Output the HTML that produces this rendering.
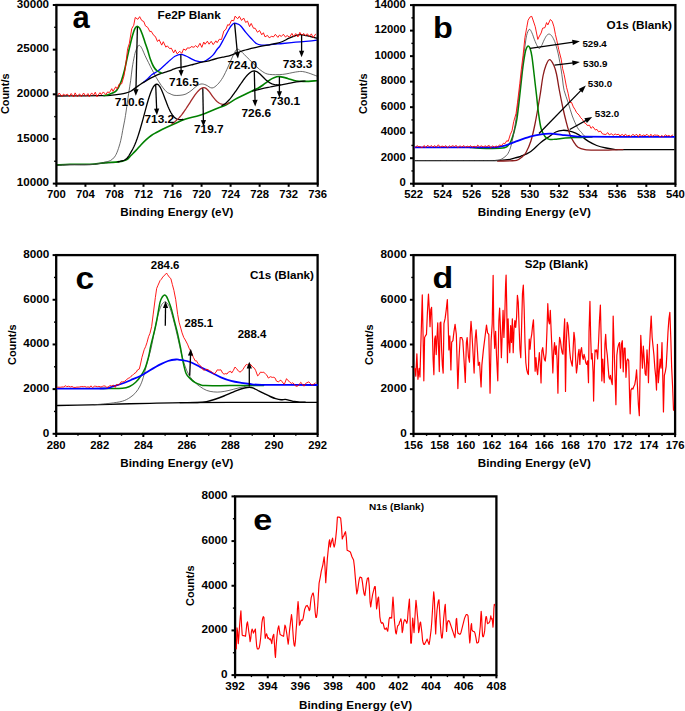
<!DOCTYPE html><html><head><meta charset="utf-8"><style>html,body{margin:0;padding:0;background:#fff;}svg{display:block;}</style></head><body>
<svg width="685" height="711" viewBox="0 0 685 711" font-family='"Liberation Sans", sans-serif'>
<rect width="685" height="711" fill="#fff"/>
<path d="M57.50,165.40 C59.58,165.30 64.58,164.92 70.00,164.80 C75.42,164.68 84.12,165.00 90.00,164.70 C95.88,164.40 101.05,163.37 105.30,163.00 C109.55,162.63 112.43,162.92 115.50,162.50 C118.57,162.08 122.33,160.83 123.70,160.50" fill="none" stroke="#222" stroke-width="1.0" stroke-linejoin="round" stroke-linecap="round" />
<path d="M57.50,164.90 C59.58,164.80 64.58,164.42 70.00,164.30 C75.42,164.18 84.12,164.48 90.00,164.20 C95.88,163.92 101.05,162.95 105.30,162.60 C109.55,162.25 112.60,162.35 115.50,162.10 C118.40,161.85 120.82,161.52 122.70,161.10 C124.58,160.68 125.43,160.53 126.80,159.60 C128.17,158.67 129.37,157.03 130.90,155.50 C132.43,153.97 134.30,152.20 136.00,150.40 C137.70,148.60 139.40,146.50 141.10,144.70 C142.80,142.90 144.50,141.13 146.20,139.60 C147.90,138.07 149.60,136.68 151.30,135.50 C153.00,134.32 154.62,133.50 156.40,132.50 C158.18,131.50 159.17,130.88 162.00,129.50 C164.83,128.12 169.45,125.95 173.40,124.20 C177.35,122.45 181.27,120.50 185.70,119.00 C190.13,117.50 194.70,117.00 200.00,115.20 C205.30,113.40 213.12,109.95 217.50,108.20 C221.88,106.45 223.38,106.17 226.30,104.70 C229.22,103.23 232.08,101.02 235.00,99.40 C237.92,97.78 240.87,96.45 243.80,95.00 C246.73,93.55 250.23,91.83 252.60,90.70 C254.97,89.57 256.27,89.15 258.00,88.20 C259.73,87.25 261.42,86.10 263.00,85.00 C264.58,83.90 266.00,82.67 267.50,81.60 C269.00,80.53 270.58,79.37 272.00,78.60 C273.42,77.83 274.72,77.33 276.00,77.00 C277.28,76.67 277.77,76.37 279.70,76.60 C281.63,76.83 284.82,77.67 287.60,78.40 C290.38,79.13 293.48,80.50 296.40,81.00 C299.32,81.50 301.75,81.45 305.10,81.40 C308.45,81.35 314.60,80.82 316.50,80.70" fill="none" stroke="#008000" stroke-width="1.6" stroke-linejoin="round" stroke-linecap="round" />
<path d="M252.60,91.20 C254.05,90.80 258.38,89.50 261.30,88.80 C264.22,88.10 267.18,87.57 270.10,87.00 C273.02,86.43 275.88,85.97 278.80,85.40 C281.72,84.83 284.67,84.18 287.60,83.60 C290.53,83.02 293.48,82.33 296.40,81.90 C299.32,81.47 303.65,81.15 305.10,81.00" fill="none" stroke="#000" stroke-width="1.2" stroke-linejoin="round" stroke-linecap="round" />
<path d="M118.00,161.76 L119.00,161.61 L120.00,161.42 L121.00,161.20 L122.00,160.94 L123.00,160.62 L124.00,160.25 L125.00,159.79 L126.00,159.13 L127.00,158.22 L128.00,157.00 L129.00,155.51 L130.00,153.88 L131.00,152.19 L132.00,150.43 L133.00,148.54 L134.00,146.48 L135.00,144.23 L136.00,141.78 L137.00,139.08 L138.00,136.15 L139.00,133.02 L140.00,129.71 L141.00,126.27 L142.00,122.72 L143.00,119.06 L144.00,115.33 L145.00,111.59 L146.00,107.88 L147.00,104.27 L148.00,100.79 L149.00,97.51 L150.00,94.48 L151.00,91.76 L152.00,89.41 L153.00,87.47 L154.00,85.96 L155.00,84.89 L156.00,84.26 L157.00,84.14 L158.00,84.57 L159.00,85.51 L160.00,86.93 L161.00,88.77 L162.00,90.95 L163.00,93.38 L164.00,95.98 L165.00,98.65 L166.00,101.33 L167.00,103.94 L168.00,106.43 L169.00,108.75 L170.00,110.86 L171.00,112.75 L172.00,114.39 L173.00,115.78 L174.00,116.94 L175.00,117.85 L176.00,118.55 L177.00,119.05 L178.00,119.38 L179.00,119.57 L180.00,119.63 L181.00,119.60 L182.00,119.50 L183.00,119.33" fill="none" stroke="#000" stroke-width="1.3" stroke-linejoin="round" stroke-linecap="round" />
<path d="M172.00,123.80 L173.00,123.11 L174.00,122.39 L175.00,121.60 L176.00,120.76 L177.00,119.85 L178.00,118.88 L179.00,117.84 L180.00,116.74 L181.00,115.56 L182.00,114.32 L183.00,113.01 L184.00,111.64 L185.00,110.22 L186.00,108.74 L187.00,107.22 L188.00,105.68 L189.00,104.12 L190.00,102.55 L191.00,100.97 L192.00,99.42 L193.00,97.89 L194.00,96.40 L195.00,94.98 L196.00,93.63 L197.00,92.38 L198.00,91.24 L199.00,90.23 L200.00,89.35 L201.00,88.62 L202.00,88.06 L203.00,87.68 L204.00,87.60 L205.00,87.84 L206.00,88.38 L207.00,89.18 L208.00,90.21 L209.00,91.40 L210.00,92.72 L211.00,94.11 L212.00,95.51 L213.00,96.89 L214.00,98.20 L215.00,99.42 L216.00,100.51 L217.00,101.46 L218.00,102.28 L219.00,102.95 L220.00,103.49 L221.00,103.90 L222.00,104.18 L223.00,104.34 L224.00,104.37 L225.00,104.28 L226.00,104.08 L227.00,103.77 L228.00,103.36 L229.00,102.87" fill="none" stroke="#a52a2a" stroke-width="1.3" stroke-linejoin="round" stroke-linecap="round" />
<path d="M222.00,105.60 L223.00,105.03 L224.00,104.41 L225.00,103.71 L226.00,102.92 L227.00,102.04 L228.00,101.06 L229.00,99.99 L230.00,98.83 L231.00,97.60 L232.00,96.31 L233.00,94.97 L234.00,93.60 L235.00,92.21 L236.00,90.81 L237.00,89.38 L238.00,87.92 L239.00,86.45 L240.00,84.97 L241.00,83.50 L242.00,82.05 L243.00,80.63 L244.00,79.24 L245.00,77.92 L246.00,76.66 L247.00,75.49 L248.00,74.42 L249.00,73.47 L250.00,72.65 L251.00,71.97 L252.00,71.44 L253.00,71.08 L254.00,70.93 L255.00,71.01 L256.00,71.30 L257.00,71.78 L258.00,72.42 L259.00,73.20 L260.00,74.07 L261.00,75.02 L262.00,76.01 L263.00,77.02 L264.00,78.03 L265.00,79.01 L266.00,79.94 L267.00,80.80 L268.00,81.59 L269.00,82.28 L270.00,82.88 L271.00,83.40 L272.00,83.82 L273.00,84.17 L274.00,84.44 L275.00,84.63 L276.00,84.77 L277.00,84.84 L278.00,84.86 L279.00,84.83 L280.00,84.76" fill="none" stroke="#000" stroke-width="1.3" stroke-linejoin="round" stroke-linecap="round" />
<path d="M57.50,165.20 C59.58,165.10 64.58,164.72 70.00,164.60 C75.42,164.48 85.00,164.72 90.00,164.50 C95.00,164.28 97.45,163.70 100.00,163.30 C102.55,162.90 103.57,162.55 105.30,162.10 C107.03,161.65 108.87,161.45 110.40,160.60 C111.93,159.75 113.30,158.62 114.50,157.00 C115.70,155.38 116.57,153.62 117.60,150.90 C118.63,148.18 119.85,144.12 120.70,140.70 C121.55,137.28 122.03,133.82 122.70,130.40 C123.37,126.98 124.10,123.60 124.70,120.20 C125.30,116.80 125.65,114.42 126.30,110.00 C126.95,105.58 127.87,98.63 128.60,93.70 C129.33,88.77 130.10,84.68 130.70,80.40 C131.30,76.12 131.57,72.15 132.20,68.00 C132.83,63.85 133.82,58.60 134.50,55.50 C135.18,52.40 135.63,51.05 136.30,49.40 C136.97,47.75 137.85,46.18 138.50,45.60 C139.15,45.02 139.55,45.27 140.20,45.90 C140.85,46.53 141.60,47.80 142.40,49.40 C143.20,51.00 143.98,53.30 145.00,55.50 C146.02,57.70 147.47,60.52 148.50,62.60 C149.53,64.68 149.92,65.53 151.20,68.00 C152.48,70.47 154.52,74.48 156.20,77.40 C157.88,80.32 159.60,83.12 161.30,85.50 C163.00,87.88 164.95,90.33 166.40,91.70 C167.85,93.07 168.73,93.10 170.00,93.70 C171.27,94.30 172.33,95.03 174.00,95.30 C175.67,95.57 178.00,95.52 180.00,95.30 C182.00,95.08 184.00,94.88 186.00,94.00 C188.00,93.12 190.33,91.25 192.00,90.00 C193.67,88.75 194.50,87.50 196.00,86.50 C197.50,85.50 199.33,84.25 201.00,84.00 C202.67,83.75 204.17,84.33 206.00,85.00 C207.83,85.67 210.08,88.08 212.00,88.00 C213.92,87.92 215.70,86.25 217.50,84.50 C219.30,82.75 221.05,80.42 222.80,77.50 C224.55,74.58 226.40,70.42 228.00,67.00 C229.60,63.58 230.97,59.92 232.40,57.00 C233.83,54.08 235.33,50.58 236.60,49.50 C237.87,48.42 238.92,49.85 240.00,50.50 C241.08,51.15 241.48,51.83 243.10,53.40 C244.72,54.97 247.50,57.72 249.70,59.90 C251.90,62.08 254.12,64.52 256.30,66.50 C258.48,68.48 260.62,70.48 262.80,71.80 C264.98,73.12 266.10,73.97 269.40,74.40 C272.70,74.83 278.22,74.80 282.60,74.40 C286.98,74.00 292.42,72.48 295.70,72.00 C298.98,71.52 300.12,71.32 302.30,71.50 C304.48,71.68 306.40,72.35 308.80,73.10 C311.20,73.85 315.38,75.52 316.70,76.00" fill="none" stroke="#444" stroke-width="0.8" stroke-linejoin="round" stroke-linecap="round" />
<path d="M143.50,82.20 C144.25,81.58 146.58,79.78 148.00,78.50 C149.42,77.22 150.47,75.67 152.00,74.50 C153.53,73.33 155.65,72.55 157.20,71.50 C158.75,70.45 159.77,69.52 161.30,68.20 C162.83,66.88 164.95,64.92 166.40,63.60 C167.85,62.28 168.57,61.52 170.00,60.30 C171.43,59.08 173.23,57.30 175.00,56.30 C176.77,55.30 178.77,54.35 180.60,54.30 C182.43,54.25 183.93,55.10 186.00,56.00 C188.07,56.90 191.17,58.83 193.00,59.70 C194.83,60.57 195.53,60.83 197.00,61.20 C198.47,61.57 200.30,62.02 201.80,61.90 C203.30,61.78 204.63,61.18 206.00,60.50 C207.37,59.82 208.77,58.78 210.00,57.80 C211.23,56.82 212.23,55.98 213.40,54.60 C214.57,53.22 215.90,50.97 217.00,49.50 C218.10,48.03 218.83,47.63 220.00,45.80 C221.17,43.97 222.67,40.97 224.00,38.50 C225.33,36.03 226.83,33.08 228.00,31.00 C229.17,28.92 229.93,27.30 231.00,26.00 C232.07,24.70 233.32,23.53 234.40,23.20 C235.48,22.87 236.48,23.57 237.50,24.00 C238.52,24.43 239.12,24.42 240.50,25.80 C241.88,27.18 244.05,30.23 245.80,32.30 C247.55,34.37 249.25,36.33 251.00,38.20 C252.75,40.07 254.55,42.35 256.30,43.50 C258.05,44.65 259.32,44.88 261.50,45.10 C263.68,45.32 265.88,45.07 269.40,44.80 C272.92,44.53 278.22,43.93 282.60,43.50 C286.98,43.07 291.33,42.60 295.70,42.20 C300.07,41.80 305.30,41.43 308.80,41.10 C312.30,40.77 315.38,40.35 316.70,40.20" fill="none" stroke="#0000ff" stroke-width="1.3" stroke-linejoin="round" stroke-linecap="round" />
<path d="M57.50,96.00 C61.25,95.98 72.92,95.95 80.00,95.90 C87.08,95.85 94.97,95.78 100.00,95.70 C105.03,95.62 106.80,95.65 110.20,95.40 C113.60,95.15 117.85,94.57 120.40,94.20 C122.95,93.83 123.78,93.70 125.50,93.20 C127.22,92.70 128.98,92.13 130.70,91.20 C132.42,90.27 134.10,88.80 135.80,87.60 C137.50,86.40 139.20,85.10 140.90,84.00 C142.60,82.90 144.30,82.02 146.00,81.00 C147.70,79.98 149.40,78.85 151.10,77.90 C152.80,76.95 154.50,76.07 156.20,75.30 C157.90,74.53 159.60,73.88 161.30,73.30 C163.00,72.72 164.62,72.38 166.40,71.80 C168.18,71.22 170.00,70.48 172.00,69.80 C174.00,69.12 176.23,68.25 178.40,67.70 C180.57,67.15 182.57,67.03 185.00,66.50 C187.43,65.97 190.20,65.22 193.00,64.50 C195.80,63.78 199.37,62.75 201.80,62.20 C204.23,61.65 205.40,61.73 207.60,61.20 C209.80,60.67 212.20,59.73 215.00,59.00 C217.80,58.27 221.90,57.37 224.40,56.80 C226.90,56.23 226.88,56.62 230.00,55.60 C233.12,54.58 238.72,52.07 243.10,50.70 C247.48,49.33 251.92,48.38 256.30,47.40 C260.68,46.42 266.12,45.45 269.40,44.80 C272.68,44.15 273.80,44.05 276.00,43.50 C278.20,42.95 280.42,42.38 282.60,41.50 C284.78,40.62 286.92,39.18 289.10,38.20 C291.28,37.22 293.72,36.18 295.70,35.60 C297.68,35.02 299.25,34.70 301.00,34.70 C302.75,34.70 304.45,35.23 306.20,35.60 C307.95,35.97 309.75,36.47 311.50,36.90 C313.25,37.33 315.83,37.98 316.70,38.20" fill="none" stroke="#000" stroke-width="1.3" stroke-linejoin="round" stroke-linecap="round" />
<path d="M104.00,95.60 C104.50,95.50 105.97,95.27 107.00,95.00 C108.03,94.73 108.82,94.55 110.20,94.00 C111.58,93.45 113.93,92.77 115.30,91.70 C116.67,90.63 117.37,89.48 118.40,87.60 C119.43,85.72 120.48,83.30 121.50,80.40 C122.52,77.50 123.50,74.20 124.50,70.20 C125.50,66.20 126.57,60.60 127.50,56.40 C128.43,52.20 129.22,48.65 130.10,45.00 C130.98,41.35 131.98,37.27 132.80,34.50 C133.62,31.73 134.27,29.78 135.00,28.40 C135.73,27.02 136.40,26.20 137.20,26.20 C138.00,26.20 138.93,27.02 139.80,28.40 C140.67,29.78 141.53,32.17 142.40,34.50 C143.27,36.83 144.12,39.77 145.00,42.40 C145.88,45.03 146.82,47.53 147.70,50.30 C148.58,53.07 149.33,56.30 150.30,59.00 C151.27,61.70 152.35,64.50 153.50,66.50 C154.65,68.50 155.90,69.93 157.20,71.00 C158.50,72.07 160.62,72.58 161.30,72.90" fill="none" stroke="#008000" stroke-width="1.6" stroke-linejoin="round" stroke-linecap="round" />
<path d="M57.50,95.57 L59.24,93.00 L61.80,96.42 L63.58,94.05 L65.09,95.46 L67.43,94.17 L69.48,96.51 L71.16,93.49 L73.73,97.00 L75.11,92.88 L77.39,96.68 L79.52,93.81 L81.43,96.64 L83.59,92.99 L85.74,96.18 L87.96,93.57 L89.28,96.73 L91.65,92.93 L93.70,95.17 L95.29,92.18 L97.00,96.79 L99.97,92.65 L101.30,94.64 L103.31,91.94 L105.89,94.63 L107.59,91.94 L109.47,92.58 L111.77,88.67 L113.03,91.42 L115.71,86.80 L117.37,89.04 L119.09,84.15 L121.66,83.80 L123.93,76.13 L125.21,68.83 L127.63,48.70 L129.30,43.54 L131.74,28.67 L133.72,25.28 L135.22,17.48 L137.83,19.34 L139.66,16.66 L141.68,20.42 L143.82,21.57 L145.43,25.86 L147.76,27.40 L149.88,31.66 L151.10,31.16 L153.85,35.49 L155.39,36.49 L157.48,41.50 L159.15,39.69 L161.70,45.14 L163.29,41.71 L165.87,47.21 L167.28,45.81 L169.56,48.54 L171.40,48.23 L173.61,52.87 L175.20,49.87 L177.18,53.84 L179.75,51.26 L181.75,53.36 L183.57,49.01 L185.92,50.27 L187.21,47.94 L189.85,48.07 L191.17,46.61 L193.96,47.25 L195.62,45.65 L197.61,47.41 L199.97,43.31 L201.79,47.34 L203.79,42.05 L205.05,44.26 L207.37,41.18 L209.08,44.19 L211.19,41.32 L213.21,44.63 L215.86,40.81 L217.13,42.73 L219.30,39.27 L221.49,39.49 L223.85,31.02 L225.97,29.22 L227.71,24.64 L229.21,25.31 L231.54,20.34 L233.71,20.78 L235.05,16.16 L237.68,18.76 L239.37,16.33 L241.59,20.45 L243.67,18.01 L245.67,22.45 L247.52,21.08 L249.55,26.63 L251.20,23.45 L253.50,28.27 L255.13,28.21 L257.48,32.24 L259.54,30.49 L261.77,34.79 L263.39,32.73 L265.02,36.87 L267.53,35.38 L269.21,37.79 L271.74,36.27 L273.39,36.98 L275.38,34.34 L277.91,37.38 L279.39,35.10 L281.35,36.44 L283.35,34.24 L285.48,37.04 L287.09,35.53 L289.55,37.17 L291.92,33.41 L293.56,36.51 L295.74,33.58 L297.95,37.03 L299.84,32.36 L301.74,35.35 L303.81,33.49 L305.82,35.84 L307.25,33.73 L309.48,36.39 L311.34,33.84 L313.26,37.62 L315.57,34.16" fill="none" stroke="#ff0000" stroke-width="0.9" stroke-linejoin="round" stroke-linecap="round" />
<line x1="137.40" y1="27.00" x2="135.93" y2="90.30" stroke="#000" stroke-width="1.3"/>
<polygon points="135.80,95.80 133.35,89.24 138.55,89.36" fill="#000"/>
<line x1="180.80" y1="54.60" x2="181.10" y2="71.10" stroke="#000" stroke-width="1.3"/>
<polygon points="181.20,76.60 178.48,70.15 183.68,70.05" fill="#000"/>
<line x1="155.70" y1="85.00" x2="156.68" y2="109.70" stroke="#000" stroke-width="1.3"/>
<polygon points="156.90,115.20 154.04,108.81 159.24,108.60" fill="#000"/>
<line x1="202.80" y1="88.20" x2="203.40" y2="121.10" stroke="#000" stroke-width="1.3"/>
<polygon points="203.50,126.60 200.78,120.15 205.98,120.05" fill="#000"/>
<line x1="234.60" y1="23.40" x2="237.39" y2="53.12" stroke="#000" stroke-width="1.3"/>
<polygon points="237.90,58.60 234.70,52.37 239.88,51.89" fill="#000"/>
<line x1="254.30" y1="71.60" x2="255.06" y2="100.90" stroke="#000" stroke-width="1.3"/>
<polygon points="255.20,106.40 252.43,99.97 257.63,99.83" fill="#000"/>
<line x1="279.40" y1="76.80" x2="279.40" y2="92.20" stroke="#000" stroke-width="1.3"/>
<polygon points="279.40,97.70 276.80,91.20 282.00,91.20" fill="#000"/>
<line x1="301.60" y1="35.00" x2="301.60" y2="51.80" stroke="#000" stroke-width="1.3"/>
<polygon points="301.60,57.30 299.00,50.80 304.20,50.80" fill="#000"/>
<text x="0" y="0" font-size="11.0" font-weight="bold" text-anchor="start" transform="translate(114.80,105.50) scale(1.08,1)" >710.6</text>
<text x="0" y="0" font-size="11.0" font-weight="bold" text-anchor="start" transform="translate(169.10,86.00) scale(1.08,1)" >716.5</text>
<text x="0" y="0" font-size="11.0" font-weight="bold" text-anchor="start" transform="translate(144.50,123.40) scale(1.08,1)" >713.2</text>
<text x="0" y="0" font-size="11.0" font-weight="bold" text-anchor="start" transform="translate(194.00,133.20) scale(1.08,1)" >719.7</text>
<text x="0" y="0" font-size="11.0" font-weight="bold" text-anchor="start" transform="translate(227.50,68.60) scale(1.08,1)" >724.0</text>
<text x="0" y="0" font-size="11.0" font-weight="bold" text-anchor="start" transform="translate(241.50,116.90) scale(1.08,1)" >726.6</text>
<text x="0" y="0" font-size="11.0" font-weight="bold" text-anchor="start" transform="translate(270.50,105.20) scale(1.08,1)" >730.1</text>
<text x="0" y="0" font-size="11.0" font-weight="bold" text-anchor="start" transform="translate(282.70,67.90) scale(1.08,1)" >733.3</text>
<text x="0" y="0" font-size="10.7" font-weight="bold" text-anchor="start" transform="translate(157.50,19.00) scale(1.1,1)" >Fe2P Blank</text>
<text x="72.60" y="27.60" font-size="31" font-weight="bold" text-anchor="start" >a</text>
<rect x="56.40" y="5.00" width="261.30" height="178.60" fill="none" stroke="#000" stroke-width="2.3"/>
<line x1="56.40" y1="183.60" x2="56.40" y2="186.80" stroke="#000" stroke-width="2"/>
<text x="56.40" y="197.50" font-size="11.3" font-weight="bold" text-anchor="middle" >700</text>
<line x1="85.43" y1="183.60" x2="85.43" y2="186.80" stroke="#000" stroke-width="2"/>
<text x="85.43" y="197.50" font-size="11.3" font-weight="bold" text-anchor="middle" >704</text>
<line x1="114.47" y1="183.60" x2="114.47" y2="186.80" stroke="#000" stroke-width="2"/>
<text x="114.47" y="197.50" font-size="11.3" font-weight="bold" text-anchor="middle" >708</text>
<line x1="143.50" y1="183.60" x2="143.50" y2="186.80" stroke="#000" stroke-width="2"/>
<text x="143.50" y="197.50" font-size="11.3" font-weight="bold" text-anchor="middle" >712</text>
<line x1="172.53" y1="183.60" x2="172.53" y2="186.80" stroke="#000" stroke-width="2"/>
<text x="172.53" y="197.50" font-size="11.3" font-weight="bold" text-anchor="middle" >716</text>
<line x1="201.57" y1="183.60" x2="201.57" y2="186.80" stroke="#000" stroke-width="2"/>
<text x="201.57" y="197.50" font-size="11.3" font-weight="bold" text-anchor="middle" >720</text>
<line x1="230.60" y1="183.60" x2="230.60" y2="186.80" stroke="#000" stroke-width="2"/>
<text x="230.60" y="197.50" font-size="11.3" font-weight="bold" text-anchor="middle" >724</text>
<line x1="259.63" y1="183.60" x2="259.63" y2="186.80" stroke="#000" stroke-width="2"/>
<text x="259.63" y="197.50" font-size="11.3" font-weight="bold" text-anchor="middle" >728</text>
<line x1="288.67" y1="183.60" x2="288.67" y2="186.80" stroke="#000" stroke-width="2"/>
<text x="288.67" y="197.50" font-size="11.3" font-weight="bold" text-anchor="middle" >732</text>
<line x1="317.70" y1="183.60" x2="317.70" y2="186.80" stroke="#000" stroke-width="2"/>
<text x="317.70" y="197.50" font-size="11.3" font-weight="bold" text-anchor="middle" >736</text>
<line x1="52.80" y1="183.60" x2="56.40" y2="183.60" stroke="#000" stroke-width="2"/>
<text x="0" y="0" font-size="11.3" font-weight="bold" text-anchor="end" transform="translate(49.10,186.30) scale(1.03,1)" >10000</text>
<line x1="54.20" y1="161.28" x2="56.40" y2="161.28" stroke="#000" stroke-width="1.4"/>
<line x1="52.80" y1="138.95" x2="56.40" y2="138.95" stroke="#000" stroke-width="2"/>
<text x="0" y="0" font-size="11.3" font-weight="bold" text-anchor="end" transform="translate(49.10,141.65) scale(1.03,1)" >15000</text>
<line x1="54.20" y1="116.62" x2="56.40" y2="116.62" stroke="#000" stroke-width="1.4"/>
<line x1="52.80" y1="94.30" x2="56.40" y2="94.30" stroke="#000" stroke-width="2"/>
<text x="0" y="0" font-size="11.3" font-weight="bold" text-anchor="end" transform="translate(49.10,97.00) scale(1.03,1)" >20000</text>
<line x1="54.20" y1="71.97" x2="56.40" y2="71.97" stroke="#000" stroke-width="1.4"/>
<line x1="52.80" y1="49.65" x2="56.40" y2="49.65" stroke="#000" stroke-width="2"/>
<text x="0" y="0" font-size="11.3" font-weight="bold" text-anchor="end" transform="translate(49.10,52.35) scale(1.03,1)" >25000</text>
<line x1="54.20" y1="27.33" x2="56.40" y2="27.33" stroke="#000" stroke-width="1.4"/>
<line x1="52.80" y1="5.00" x2="56.40" y2="5.00" stroke="#000" stroke-width="2"/>
<text x="0" y="0" font-size="11.3" font-weight="bold" text-anchor="end" transform="translate(49.10,7.70) scale(1.03,1)" >30000</text>
<text x="0" y="0" font-size="10.4" font-weight="bold" text-anchor="middle" letter-spacing="0.1" transform="translate(176.90,216.30) scale(1.12,1)" >Binding Energy (eV)</text>
<text x="0" y="0" font-size="10.9" font-weight="bold" text-anchor="middle" transform="translate(8.60,93.80) rotate(-90)">Count/s</text>
<rect x="413.60" y="5.10" width="261.80" height="178.60" fill="none" stroke="#000" stroke-width="2.3"/>
<line x1="413.60" y1="183.70" x2="413.60" y2="186.90" stroke="#000" stroke-width="2"/>
<text x="413.60" y="197.60" font-size="11.3" font-weight="bold" text-anchor="middle" >522</text>
<line x1="442.69" y1="183.70" x2="442.69" y2="186.90" stroke="#000" stroke-width="2"/>
<text x="442.69" y="197.60" font-size="11.3" font-weight="bold" text-anchor="middle" >524</text>
<line x1="471.78" y1="183.70" x2="471.78" y2="186.90" stroke="#000" stroke-width="2"/>
<text x="471.78" y="197.60" font-size="11.3" font-weight="bold" text-anchor="middle" >526</text>
<line x1="500.87" y1="183.70" x2="500.87" y2="186.90" stroke="#000" stroke-width="2"/>
<text x="500.87" y="197.60" font-size="11.3" font-weight="bold" text-anchor="middle" >528</text>
<line x1="529.96" y1="183.70" x2="529.96" y2="186.90" stroke="#000" stroke-width="2"/>
<text x="529.96" y="197.60" font-size="11.3" font-weight="bold" text-anchor="middle" >530</text>
<line x1="559.04" y1="183.70" x2="559.04" y2="186.90" stroke="#000" stroke-width="2"/>
<text x="559.04" y="197.60" font-size="11.3" font-weight="bold" text-anchor="middle" >532</text>
<line x1="588.13" y1="183.70" x2="588.13" y2="186.90" stroke="#000" stroke-width="2"/>
<text x="588.13" y="197.60" font-size="11.3" font-weight="bold" text-anchor="middle" >534</text>
<line x1="617.22" y1="183.70" x2="617.22" y2="186.90" stroke="#000" stroke-width="2"/>
<text x="617.22" y="197.60" font-size="11.3" font-weight="bold" text-anchor="middle" >536</text>
<line x1="646.31" y1="183.70" x2="646.31" y2="186.90" stroke="#000" stroke-width="2"/>
<text x="646.31" y="197.60" font-size="11.3" font-weight="bold" text-anchor="middle" >538</text>
<line x1="675.40" y1="183.70" x2="675.40" y2="186.90" stroke="#000" stroke-width="2"/>
<text x="675.40" y="197.60" font-size="11.3" font-weight="bold" text-anchor="middle" >540</text>
<line x1="410.00" y1="183.70" x2="413.60" y2="183.70" stroke="#000" stroke-width="2"/>
<text x="405.80" y="186.40" font-size="11.3" font-weight="bold" text-anchor="end" >0</text>
<line x1="411.40" y1="170.94" x2="413.60" y2="170.94" stroke="#000" stroke-width="1.4"/>
<line x1="410.00" y1="158.19" x2="413.60" y2="158.19" stroke="#000" stroke-width="2"/>
<text x="405.80" y="160.89" font-size="11.3" font-weight="bold" text-anchor="end" >2000</text>
<line x1="411.40" y1="145.43" x2="413.60" y2="145.43" stroke="#000" stroke-width="1.4"/>
<line x1="410.00" y1="132.67" x2="413.60" y2="132.67" stroke="#000" stroke-width="2"/>
<text x="405.80" y="135.37" font-size="11.3" font-weight="bold" text-anchor="end" >4000</text>
<line x1="411.40" y1="119.91" x2="413.60" y2="119.91" stroke="#000" stroke-width="1.4"/>
<line x1="410.00" y1="107.16" x2="413.60" y2="107.16" stroke="#000" stroke-width="2"/>
<text x="405.80" y="109.86" font-size="11.3" font-weight="bold" text-anchor="end" >6000</text>
<line x1="411.40" y1="94.40" x2="413.60" y2="94.40" stroke="#000" stroke-width="1.4"/>
<line x1="410.00" y1="81.64" x2="413.60" y2="81.64" stroke="#000" stroke-width="2"/>
<text x="405.80" y="84.34" font-size="11.3" font-weight="bold" text-anchor="end" >8000</text>
<line x1="411.40" y1="68.89" x2="413.60" y2="68.89" stroke="#000" stroke-width="1.4"/>
<line x1="410.00" y1="56.13" x2="413.60" y2="56.13" stroke="#000" stroke-width="2"/>
<text x="405.80" y="58.83" font-size="11.3" font-weight="bold" text-anchor="end" >10000</text>
<line x1="411.40" y1="43.37" x2="413.60" y2="43.37" stroke="#000" stroke-width="1.4"/>
<line x1="410.00" y1="30.61" x2="413.60" y2="30.61" stroke="#000" stroke-width="2"/>
<text x="405.80" y="33.31" font-size="11.3" font-weight="bold" text-anchor="end" >12000</text>
<line x1="411.40" y1="17.86" x2="413.60" y2="17.86" stroke="#000" stroke-width="1.4"/>
<line x1="410.00" y1="5.10" x2="413.60" y2="5.10" stroke="#000" stroke-width="2"/>
<text x="405.80" y="7.80" font-size="11.3" font-weight="bold" text-anchor="end" >14000</text>
<text x="0" y="0" font-size="10.4" font-weight="bold" text-anchor="middle" letter-spacing="0.1" transform="translate(534.40,215.50) scale(1.12,1)" >Binding Energy (eV)</text>
<text x="0" y="0" font-size="10.9" font-weight="bold" text-anchor="middle" transform="translate(366.80,93.80) rotate(-90)">Count/s</text>
<path d="M415.00,160.60 C424.17,160.60 458.57,160.60 470.00,160.60 C481.43,160.60 478.57,160.65 483.60,160.60 C488.63,160.55 495.80,160.52 500.20,160.30 C504.60,160.08 507.52,159.70 510.00,159.30 C512.48,158.90 513.32,158.40 515.10,157.90 C516.88,157.40 518.22,157.28 520.70,156.30 C523.18,155.32 526.60,154.35 530.00,152.00 C533.40,149.65 537.77,144.87 541.10,142.20 C544.43,139.53 547.55,137.70 550.00,136.00 C552.45,134.30 553.67,132.95 555.80,132.00 C557.93,131.05 560.65,130.48 562.80,130.30 C564.95,130.12 566.55,130.42 568.70,130.90 C570.85,131.38 573.37,132.13 575.70,133.20 C578.03,134.27 580.57,135.93 582.70,137.30 C584.83,138.67 586.17,140.03 588.50,141.40 C590.83,142.77 593.77,144.40 596.70,145.50 C599.63,146.60 603.18,147.37 606.10,148.00 C609.02,148.63 611.55,149.03 614.20,149.30 C616.85,149.57 612.03,149.55 622.00,149.60 C631.97,149.65 665.33,149.60 674.00,149.60" fill="none" stroke="#000" stroke-width="1.3" stroke-linejoin="round" stroke-linecap="round" />
<path d="M497.60,161.00 C499.67,160.97 506.83,160.92 510.00,160.80 C513.17,160.68 514.58,160.93 516.60,160.30 C518.62,159.67 520.53,158.30 522.10,157.00 C523.67,155.70 524.53,155.17 526.00,152.50 C527.47,149.83 529.40,145.75 530.90,141.00 C532.40,136.25 533.52,131.33 535.00,124.00 C536.48,116.67 538.47,105.00 539.80,97.00 C541.13,89.00 541.98,81.25 543.00,76.00 C544.02,70.75 544.82,68.23 545.90,65.50 C546.98,62.77 548.18,59.65 549.50,59.60 C550.82,59.55 552.63,62.80 553.80,65.20 C554.97,67.60 555.58,69.87 556.50,74.00 C557.42,78.13 558.25,84.42 559.30,90.00 C560.35,95.58 561.62,102.05 562.80,107.50 C563.98,112.95 565.22,118.22 566.40,122.70 C567.58,127.18 568.73,131.28 569.90,134.40 C571.07,137.52 572.05,139.27 573.40,141.40 C574.75,143.53 576.07,145.83 578.00,147.20 C579.93,148.57 581.88,149.12 585.00,149.60 C588.12,150.08 592.80,150.02 596.70,150.10 C600.60,150.18 605.28,150.15 608.40,150.10 C611.52,150.05 612.97,149.88 615.40,149.80 C617.83,149.72 621.73,149.63 623.00,149.60" fill="none" stroke="#8b1a1a" stroke-width="1.3" stroke-linejoin="round" stroke-linecap="round" />
<path d="M470.00,147.40 C471.67,147.53 475.00,148.05 480.00,148.20 C485.00,148.35 495.83,148.40 500.00,148.30 C504.17,148.20 503.65,148.07 505.00,147.60 C506.35,147.13 507.10,146.60 508.10,145.50 C509.10,144.40 510.02,143.25 511.00,141.00 C511.98,138.75 513.02,135.67 514.00,132.00 C514.98,128.33 515.95,125.00 516.90,119.00 C517.85,113.00 518.80,103.83 519.70,96.00 C520.60,88.17 521.58,78.08 522.30,72.00 C523.02,65.92 523.42,63.17 524.00,59.50 C524.58,55.83 525.13,52.25 525.80,50.00 C526.47,47.75 527.28,46.25 528.00,46.00 C528.72,45.75 529.45,46.77 530.10,48.50 C530.75,50.23 531.32,52.82 531.90,56.40 C532.48,59.98 533.05,65.40 533.60,70.00 C534.15,74.60 534.70,79.67 535.20,84.00 C535.70,88.33 536.05,91.17 536.60,96.00 C537.15,100.83 537.75,107.58 538.50,113.00 C539.25,118.42 540.02,124.58 541.10,128.50 C542.18,132.42 543.63,134.68 545.00,136.50 C546.37,138.32 547.63,138.95 549.30,139.40 C550.97,139.85 552.97,139.35 555.00,139.20 C557.03,139.05 558.43,138.77 561.50,138.50 C564.57,138.23 569.48,137.80 573.40,137.60 C577.32,137.40 581.90,137.40 585.00,137.30 C588.10,137.20 590.83,137.05 592.00,137.00" fill="none" stroke="#008000" stroke-width="1.5" stroke-linejoin="round" stroke-linecap="round" />
<path d="M415.00,160.50 C427.50,160.50 476.53,160.52 490.00,160.50 C503.47,160.48 494.13,160.52 495.80,160.40 C497.47,160.28 498.63,160.28 500.00,159.80 C501.37,159.32 502.65,158.58 504.00,157.50 C505.35,156.42 506.85,155.55 508.10,153.30 C509.35,151.05 510.33,148.72 511.50,144.00 C512.67,139.28 514.02,131.83 515.10,125.00 C516.18,118.17 517.13,109.67 518.00,103.00 C518.87,96.33 519.62,90.63 520.30,85.00 C520.98,79.37 521.55,74.03 522.10,69.20 C522.65,64.37 523.13,59.73 523.60,56.00 C524.07,52.27 524.40,50.22 524.90,46.80 C525.40,43.38 525.87,38.42 526.60,35.50 C527.33,32.58 528.42,29.75 529.30,29.30 C530.18,28.85 531.03,31.05 531.90,32.80 C532.77,34.55 533.62,37.62 534.50,39.80 C535.38,41.98 536.40,44.45 537.20,45.90 C538.00,47.35 538.58,48.50 539.30,48.50 C540.02,48.50 540.68,47.35 541.50,45.90 C542.32,44.45 543.32,41.55 544.20,39.80 C545.08,38.05 545.93,36.35 546.80,35.40 C547.67,34.45 548.53,33.95 549.40,34.10 C550.27,34.25 551.12,35.07 552.00,36.30 C552.88,37.53 553.97,39.75 554.70,41.50 C555.43,43.25 555.82,44.75 556.40,46.80 C556.98,48.85 557.62,51.17 558.20,53.80 C558.78,56.43 559.40,59.90 559.90,62.60 C560.40,65.30 560.75,67.10 561.20,70.00 C561.65,72.90 562.12,76.60 562.60,80.00 C563.08,83.40 563.17,86.62 564.10,90.40 C565.03,94.18 566.83,98.43 568.20,102.70 C569.57,106.97 570.77,111.87 572.30,116.00 C573.83,120.13 575.87,124.75 577.40,127.50 C578.93,130.25 580.23,131.00 581.50,132.50 C582.77,134.00 583.58,135.75 585.00,136.50 C586.42,137.25 589.17,136.92 590.00,137.00" fill="none" stroke="#444" stroke-width="0.8" stroke-linejoin="round" stroke-linecap="round" />
<path d="M415.00,147.40 C425.83,147.40 466.67,147.42 480.00,147.40 C493.33,147.38 490.83,147.60 495.00,147.30 C499.17,147.00 501.67,146.52 505.00,145.60 C508.33,144.68 510.83,143.30 515.00,141.80 C519.17,140.30 525.67,137.85 530.00,136.60 C534.33,135.35 537.50,134.78 541.00,134.30 C544.50,133.82 547.55,133.60 551.00,133.70 C554.45,133.80 557.97,134.50 561.70,134.90 C565.43,135.30 569.52,135.80 573.40,136.10 C577.28,136.40 575.57,136.58 585.00,136.70 C594.43,136.82 615.17,136.77 630.00,136.80 C644.83,136.83 666.67,136.88 674.00,136.90" fill="none" stroke="#0000ff" stroke-width="1.8" stroke-linejoin="round" stroke-linecap="round" />
<path d="M415.00,147.54 L417.16,145.72 L418.85,146.71 L420.15,146.61 L422.02,147.70 L424.34,145.50 L425.35,147.49 L427.89,145.24 L429.67,147.12 L431.17,145.44 L432.82,147.06 L434.60,145.64 L436.38,147.10 L438.35,144.77 L440.20,147.18 L442.05,146.04 L444.25,146.78 L445.86,145.65 L447.51,147.83 L449.64,145.78 L450.74,146.85 L452.49,145.73 L454.70,146.59 L455.99,145.28 L457.78,147.64 L460.01,145.79 L461.77,147.08 L463.98,145.56 L465.52,147.28 L467.21,146.11 L469.00,147.02 L470.57,145.70 L472.16,147.19 L474.12,146.22 L476.37,147.22 L477.73,145.11 L479.68,146.99 L481.15,145.73 L483.70,147.05 L484.89,145.73 L486.79,146.64 L489.14,145.35 L490.61,147.80 L492.71,145.88 L494.33,147.08 L496.22,145.95 L497.43,146.94 L499.64,145.01 L501.41,145.64 L503.53,143.18 L504.88,143.75 L506.89,140.58 L508.20,141.41 L510.30,134.52 L512.04,130.65 L513.69,121.67 L516.08,113.38 L517.49,102.81 L519.83,83.19 L521.28,69.75 L523.09,55.35 L524.92,37.63 L526.76,27.40 L528.09,20.22 L530.15,16.85 L531.77,16.36 L533.71,22.02 L535.24,26.66 L537.82,39.41 L538.94,37.01 L541.15,32.99 L542.62,28.19 L544.94,27.67 L546.55,22.60 L547.87,24.90 L550.31,19.54 L552.20,21.24 L553.96,26.79 L555.46,34.65 L556.88,40.71 L558.72,49.55 L561.19,59.18 L562.65,68.71 L564.11,74.38 L566.55,87.30 L568.13,93.29 L569.86,102.31 L571.49,102.32 L573.32,106.85 L574.97,109.46 L576.58,112.54 L579.14,115.17 L580.57,117.59 L582.44,119.44 L584.04,122.39 L586.23,123.87 L587.37,125.54 L589.48,125.18 L590.98,128.34 L592.86,126.61 L595.42,130.04 L596.94,129.40 L598.54,131.83 L600.42,131.04 L602.54,133.96 L603.86,134.23 L605.88,134.47 L607.77,132.67 L609.27,134.92 L611.22,133.71 L613.24,135.31 L615.17,133.92 L616.29,134.69 L618.79,134.31 L619.75,135.91 L622.23,134.44 L624.08,136.12 L625.27,134.16 L627.33,135.91 L629.48,135.21 L630.56,136.61 L632.92,134.38 L634.86,135.71 L636.41,134.16 L638.40,136.81 L639.75,134.06 L641.53,136.19 L643.48,134.99 L645.11,135.67 L647.06,134.34 L649.40,136.68 L650.87,134.22 L652.46,136.36 L654.19,134.97 L656.61,135.24 L657.95,135.16 L660.23,136.83 L661.61,135.47 L663.42,136.65 L665.56,134.82 L667.22,136.08 L668.87,135.48 L670.53,136.43 L672.74,135.06" fill="none" stroke="#ff0000" stroke-width="0.9" stroke-linejoin="round" stroke-linecap="round" />
<line x1="530.10" y1="48.40" x2="573.47" y2="42.22" stroke="#000" stroke-width="1.3"/>
<polygon points="579.90,41.30 572.84,44.93 572.11,39.78" fill="#000"/>
<line x1="554.50" y1="65.20" x2="573.45" y2="62.89" stroke="#000" stroke-width="1.3"/>
<polygon points="579.90,62.10 572.77,65.59 572.14,60.43" fill="#000"/>
<line x1="539.00" y1="133.50" x2="581.26" y2="90.15" stroke="#000" stroke-width="1.3"/>
<polygon points="585.80,85.50 582.43,92.69 578.70,89.05" fill="#000"/>
<line x1="569.70" y1="129.50" x2="586.52" y2="120.16" stroke="#000" stroke-width="1.3"/>
<polygon points="592.20,117.00 586.91,122.92 584.38,118.37" fill="#000"/>
<text x="0" y="0" font-size="8.7" font-weight="bold" text-anchor="start" transform="translate(582.40,47.00) scale(1.12,1)" >529.4</text>
<text x="0" y="0" font-size="8.7" font-weight="bold" text-anchor="start" transform="translate(583.00,67.10) scale(1.12,1)" >530.9</text>
<text x="0" y="0" font-size="8.7" font-weight="bold" text-anchor="start" transform="translate(587.80,87.00) scale(1.12,1)" >530.0</text>
<text x="0" y="0" font-size="8.7" font-weight="bold" text-anchor="start" transform="translate(594.80,117.00) scale(1.12,1)" >532.0</text>
<text x="0" y="0" font-size="29.5" font-weight="bold" text-anchor="start" transform="translate(432.90,38.40) scale(1.1,1)" >b</text>
<text x="0" y="0" font-size="10.6" font-weight="bold" text-anchor="start" transform="translate(606.60,28.70) scale(1.11,1)" >O1s (Blank)</text>
<rect x="56.20" y="255.10" width="261.40" height="178.70" fill="none" stroke="#000" stroke-width="2.3"/>
<line x1="77.98" y1="433.80" x2="77.98" y2="435.80" stroke="#000" stroke-width="1.4"/>
<line x1="121.55" y1="433.80" x2="121.55" y2="435.80" stroke="#000" stroke-width="1.4"/>
<line x1="165.12" y1="433.80" x2="165.12" y2="435.80" stroke="#000" stroke-width="1.4"/>
<line x1="208.68" y1="433.80" x2="208.68" y2="435.80" stroke="#000" stroke-width="1.4"/>
<line x1="252.25" y1="433.80" x2="252.25" y2="435.80" stroke="#000" stroke-width="1.4"/>
<line x1="295.82" y1="433.80" x2="295.82" y2="435.80" stroke="#000" stroke-width="1.4"/>
<line x1="56.20" y1="433.80" x2="56.20" y2="437.00" stroke="#000" stroke-width="2"/>
<text x="56.20" y="448.50" font-size="11.3" font-weight="bold" text-anchor="middle" >280</text>
<line x1="99.77" y1="433.80" x2="99.77" y2="437.00" stroke="#000" stroke-width="2"/>
<text x="99.77" y="448.50" font-size="11.3" font-weight="bold" text-anchor="middle" >282</text>
<line x1="143.33" y1="433.80" x2="143.33" y2="437.00" stroke="#000" stroke-width="2"/>
<text x="143.33" y="448.50" font-size="11.3" font-weight="bold" text-anchor="middle" >284</text>
<line x1="186.90" y1="433.80" x2="186.90" y2="437.00" stroke="#000" stroke-width="2"/>
<text x="186.90" y="448.50" font-size="11.3" font-weight="bold" text-anchor="middle" >286</text>
<line x1="230.47" y1="433.80" x2="230.47" y2="437.00" stroke="#000" stroke-width="2"/>
<text x="230.47" y="448.50" font-size="11.3" font-weight="bold" text-anchor="middle" >288</text>
<line x1="274.03" y1="433.80" x2="274.03" y2="437.00" stroke="#000" stroke-width="2"/>
<text x="274.03" y="448.50" font-size="11.3" font-weight="bold" text-anchor="middle" >290</text>
<line x1="317.60" y1="433.80" x2="317.60" y2="437.00" stroke="#000" stroke-width="2"/>
<text x="317.60" y="448.50" font-size="11.3" font-weight="bold" text-anchor="middle" >292</text>
<line x1="52.60" y1="433.80" x2="56.20" y2="433.80" stroke="#000" stroke-width="2"/>
<text x="0" y="0" font-size="11.3" font-weight="bold" text-anchor="end" transform="translate(49.30,436.80) scale(1.04,1)" >0</text>
<line x1="54.00" y1="411.46" x2="56.20" y2="411.46" stroke="#000" stroke-width="1.4"/>
<line x1="52.60" y1="389.12" x2="56.20" y2="389.12" stroke="#000" stroke-width="2"/>
<text x="0" y="0" font-size="11.3" font-weight="bold" text-anchor="end" transform="translate(49.30,392.12) scale(1.04,1)" >2000</text>
<line x1="54.00" y1="366.79" x2="56.20" y2="366.79" stroke="#000" stroke-width="1.4"/>
<line x1="52.60" y1="344.45" x2="56.20" y2="344.45" stroke="#000" stroke-width="2"/>
<text x="0" y="0" font-size="11.3" font-weight="bold" text-anchor="end" transform="translate(49.30,347.45) scale(1.04,1)" >4000</text>
<line x1="54.00" y1="322.11" x2="56.20" y2="322.11" stroke="#000" stroke-width="1.4"/>
<line x1="52.60" y1="299.77" x2="56.20" y2="299.77" stroke="#000" stroke-width="2"/>
<text x="0" y="0" font-size="11.3" font-weight="bold" text-anchor="end" transform="translate(49.30,302.77) scale(1.04,1)" >6000</text>
<line x1="54.00" y1="277.44" x2="56.20" y2="277.44" stroke="#000" stroke-width="1.4"/>
<line x1="52.60" y1="255.10" x2="56.20" y2="255.10" stroke="#000" stroke-width="2"/>
<text x="0" y="0" font-size="11.3" font-weight="bold" text-anchor="end" transform="translate(49.30,258.10) scale(1.04,1)" >8000</text>
<text x="0" y="0" font-size="10.4" font-weight="bold" text-anchor="middle" letter-spacing="0.1" transform="translate(176.90,467.40) scale(1.12,1)" >Binding Energy (eV)</text>
<text x="0" y="0" font-size="10.9" font-weight="bold" text-anchor="middle" transform="translate(15.60,344.70) rotate(-90)">Count/s</text>
<path d="M57.50,405.50 C62.92,405.40 79.58,405.15 90.00,404.90 C100.42,404.65 110.00,404.27 120.00,404.00 C130.00,403.73 139.00,403.52 150.00,403.30 C161.00,403.08 169.33,402.85 186.00,402.70 C202.67,402.55 228.17,402.45 250.00,402.40 C271.83,402.35 305.83,402.40 317.00,402.40" fill="none" stroke="#000" stroke-width="1.3" stroke-linejoin="round" stroke-linecap="round" />
<path d="M180.00,402.60 C182.90,402.58 192.97,402.67 197.40,402.50 C201.83,402.33 203.53,402.18 206.60,401.60 C209.67,401.02 212.92,399.93 215.80,399.00 C218.68,398.07 221.35,397.02 223.90,396.00 C226.45,394.98 228.88,393.83 231.10,392.90 C233.32,391.97 235.15,391.17 237.20,390.40 C239.25,389.63 241.37,388.83 243.40,388.30 C245.43,387.77 247.67,387.20 249.40,387.20 C251.13,387.20 252.17,387.65 253.80,388.30 C255.43,388.95 257.38,390.18 259.20,391.10 C261.02,392.02 262.87,392.90 264.70,393.80 C266.53,394.70 268.37,395.68 270.20,396.50 C272.03,397.32 273.88,398.15 275.70,398.70 C277.52,399.25 279.50,399.68 281.10,399.80 C282.70,399.92 283.83,399.30 285.30,399.40 C286.77,399.50 288.40,400.05 289.90,400.40 C291.40,400.75 292.67,401.22 294.30,401.50 C295.93,401.78 297.88,401.97 299.70,402.10 C301.52,402.23 304.28,402.27 305.20,402.30" fill="none" stroke="#000" stroke-width="1.4" stroke-linejoin="round" stroke-linecap="round" />
<path d="M94.00,404.80 C96.67,404.55 105.27,403.90 110.00,403.30 C114.73,402.70 119.07,402.17 122.40,401.20 C125.73,400.23 127.78,398.93 130.00,397.50 C132.22,396.07 134.03,394.52 135.70,392.60 C137.37,390.68 138.73,388.53 140.00,386.00 C141.27,383.47 142.13,381.23 143.30,377.40 C144.47,373.57 145.73,367.73 147.00,363.00 C148.27,358.27 149.62,354.50 150.90,349.00 C152.18,343.50 153.52,335.67 154.70,330.00 C155.88,324.33 156.95,319.00 158.00,315.00 C159.05,311.00 160.08,308.07 161.00,306.00 C161.92,303.93 162.75,303.27 163.50,302.60 C164.25,301.93 164.83,301.85 165.50,302.00 C166.17,302.15 166.75,302.50 167.50,303.50 C168.25,304.50 169.08,305.58 170.00,308.00 C170.92,310.42 172.00,314.33 173.00,318.00 C174.00,321.67 175.00,325.83 176.00,330.00 C177.00,334.17 178.00,338.67 179.00,343.00 C180.00,347.33 181.00,352.17 182.00,356.00 C183.00,359.83 183.80,362.75 185.00,366.00 C186.20,369.25 187.48,372.72 189.20,375.50 C190.92,378.28 193.43,380.82 195.30,382.70 C197.17,384.58 198.52,385.52 200.40,386.80 C202.28,388.08 204.38,389.55 206.60,390.40 C208.82,391.25 211.32,391.65 213.70,391.90 C216.08,392.15 218.35,392.15 220.90,391.90 C223.45,391.65 226.28,391.00 229.00,390.40 C231.72,389.80 234.80,388.90 237.20,388.30 C239.60,387.70 241.27,387.30 243.40,386.80 C245.53,386.30 247.90,385.63 250.00,385.30 C252.10,384.97 255.00,384.88 256.00,384.80" fill="none" stroke="#444" stroke-width="0.8" stroke-linejoin="round" stroke-linecap="round" />
<path d="M100.00,388.40 C103.73,388.38 117.40,388.67 122.40,388.30 C127.40,387.93 127.78,387.22 130.00,386.20 C132.22,385.18 133.95,383.82 135.70,382.20 C137.45,380.58 138.92,378.87 140.50,376.50 C142.08,374.13 143.87,371.25 145.20,368.00 C146.53,364.75 147.55,360.80 148.50,357.00 C149.45,353.20 149.87,349.70 150.90,345.20 C151.93,340.70 153.68,334.37 154.70,330.00 C155.72,325.63 156.12,323.62 157.00,319.00 C157.88,314.38 159.12,305.97 160.00,302.30 C160.88,298.63 161.53,298.20 162.30,297.00 C163.07,295.80 163.90,295.18 164.60,295.10 C165.30,295.02 165.90,295.65 166.50,296.50 C167.10,297.35 167.42,298.22 168.20,300.20 C168.98,302.18 170.18,304.98 171.20,308.40 C172.22,311.82 173.27,316.62 174.30,320.70 C175.33,324.78 176.38,328.48 177.40,332.90 C178.42,337.32 179.45,342.35 180.40,347.20 C181.35,352.05 182.15,357.62 183.10,362.00 C184.05,366.38 184.92,370.73 186.10,373.50 C187.28,376.27 188.67,377.07 190.20,378.60 C191.73,380.13 193.60,381.68 195.30,382.70 C197.00,383.72 198.70,384.22 200.40,384.70 C202.10,385.18 200.57,385.45 205.50,385.60 C210.43,385.75 220.32,385.60 230.00,385.60 C239.68,385.60 258.00,385.60 263.60,385.60" fill="none" stroke="#008000" stroke-width="1.5" stroke-linejoin="round" stroke-linecap="round" />
<path d="M57.50,388.60 C65.15,388.58 94.32,388.82 103.40,388.50 C112.48,388.18 108.83,387.53 112.00,386.70 C115.17,385.87 119.23,384.62 122.40,383.50 C125.57,382.38 127.83,381.33 131.00,380.00 C134.17,378.67 138.23,377.13 141.40,375.50 C144.57,373.87 146.83,372.05 150.00,370.20 C153.17,368.35 157.40,365.93 160.40,364.40 C163.40,362.87 165.40,361.82 168.00,361.00 C170.60,360.18 174.00,359.68 176.00,359.50 C178.00,359.32 177.63,359.48 180.00,359.90 C182.37,360.32 186.80,360.80 190.20,362.00 C193.60,363.20 196.98,365.40 200.40,367.10 C203.82,368.80 207.28,370.50 210.70,372.20 C214.12,373.90 217.50,375.85 220.90,377.30 C224.30,378.75 227.70,379.97 231.10,380.90 C234.50,381.83 238.15,382.38 241.30,382.90 C244.45,383.42 246.55,383.68 250.00,384.00 C253.45,384.32 250.83,384.63 262.00,384.80 C273.17,384.97 307.83,384.97 317.00,385.00" fill="none" stroke="#0000ff" stroke-width="1.8" stroke-linejoin="round" stroke-linecap="round" />
<path d="M57.50,387.14 L59.10,387.22 L60.78,387.21 L61.92,386.96 L63.62,386.94 L65.84,385.69 L66.76,386.69 L68.40,386.26 L70.66,386.92 L72.00,386.48 L73.40,387.29 L75.11,387.45 L76.83,387.07 L78.12,387.07 L79.61,386.91 L81.73,386.51 L83.24,386.72 L84.71,386.47 L86.55,387.14 L87.94,386.85 L89.88,387.28 L90.86,385.85 L92.74,387.50 L94.29,386.26 L95.78,386.28 L97.57,386.67 L98.89,386.39 L100.94,387.01 L102.59,386.33 L103.60,385.94 L105.47,386.05 L106.92,387.61 L108.37,386.58 L110.62,385.45 L111.84,386.22 L113.22,384.96 L115.24,387.35 L116.46,384.46 L118.62,384.85 L119.67,384.26 L121.13,381.83 L122.86,381.98 L124.58,381.37 L126.28,379.83 L128.22,378.33 L129.66,377.84 L130.97,376.31 L132.31,375.44 L134.03,373.73 L136.30,372.19 L137.47,369.96 L139.25,369.09 L140.34,364.96 L141.93,357.45 L144.18,349.69 L145.57,346.69 L146.95,342.69 L148.55,336.66 L149.97,333.34 L151.64,326.64 L153.12,314.92 L155.37,297.42 L156.67,288.43 L158.00,285.25 L160.09,280.56 L161.26,279.37 L162.75,277.06 L164.78,275.01 L166.62,273.09 L167.52,274.60 L169.74,277.71 L170.85,278.58 L172.37,284.54 L173.91,290.37 L175.73,299.69 L177.68,314.48 L179.09,322.21 L180.98,328.88 L182.07,332.86 L183.75,337.46 L185.31,340.01 L187.48,344.13 L189.05,348.08 L190.17,350.27 L191.85,353.48 L193.35,357.33 L195.30,360.96 L196.33,360.67 L197.95,363.33 L199.82,365.40 L201.30,366.60 L203.38,370.09 L204.89,370.06 L206.34,369.36 L208.03,369.63 L209.65,370.91 L211.32,371.48 L213.04,373.36 L214.02,374.05 L216.00,372.17 L217.21,369.88 L219.05,370.06 L220.93,369.84 L222.62,373.13 L224.11,374.23 L225.13,373.59 L226.99,374.02 L228.43,372.05 L230.70,371.26 L231.62,373.04 L233.30,370.55 L234.99,367.04 L236.35,368.38 L238.60,371.28 L240.01,372.09 L241.23,371.41 L243.10,369.26 L244.36,367.12 L246.39,364.42 L247.69,364.89 L249.13,363.82 L250.79,364.60 L252.74,367.08 L254.41,368.18 L255.76,370.72 L257.61,375.88 L258.98,374.69 L260.40,372.15 L262.15,372.42 L263.82,372.16 L265.83,374.41 L266.79,375.10 L268.37,378.07 L270.35,376.71 L272.27,377.39 L273.83,377.27 L275.26,378.20 L276.35,380.97 L278.55,382.01 L280.05,380.22 L281.22,380.49 L283.07,383.02 L284.34,384.30 L286.54,378.65 L288.07,380.65 L289.74,381.94 L291.31,383.49 L292.51,382.77 L294.53,384.35 L295.70,386.15 L297.21,386.21 L299.01,384.98 L300.70,382.34 L302.13,383.72 L303.98,386.23 L305.58,383.50 L306.89,382.74 L308.80,381.88 L310.19,383.24 L312.09,385.17 L313.33,384.46 L315.34,383.07" fill="none" stroke="#ff0000" stroke-width="0.9" stroke-linejoin="round" stroke-linecap="round" />
<line x1="165.30" y1="325.80" x2="165.53" y2="307.00" stroke="#000" stroke-width="1.3"/>
<polygon points="165.60,301.20 168.12,308.03 162.92,307.97" fill="#000"/>
<line x1="189.70" y1="375.80" x2="190.56" y2="354.60" stroke="#000" stroke-width="1.3"/>
<polygon points="190.80,348.80 193.12,355.70 187.93,355.49" fill="#000"/>
<line x1="249.30" y1="386.50" x2="249.30" y2="367.60" stroke="#000" stroke-width="1.3"/>
<polygon points="249.30,361.80 251.90,368.60 246.70,368.60" fill="#000"/>
<text x="0" y="0" font-size="11.0" font-weight="bold" text-anchor="start" transform="translate(150.80,269.10) scale(1.04,1)" >284.6</text>
<text x="0" y="0" font-size="11.0" font-weight="bold" text-anchor="start" transform="translate(184.50,327.30) scale(1.04,1)" >285.1</text>
<text x="0" y="0" font-size="11.0" font-weight="bold" text-anchor="start" transform="translate(237.70,338.40) scale(1.04,1)" >288.4</text>
<text x="0" y="0" font-size="30.5" font-weight="bold" text-anchor="start" transform="translate(75.60,288.60) scale(1.1,1)" >c</text>
<text x="0" y="0" font-size="10.6" font-weight="bold" text-anchor="start" transform="translate(249.90,278.70) scale(1.1,1)" >C1s (Blank)</text>
<rect x="413.50" y="255.10" width="261.60" height="178.80" fill="none" stroke="#000" stroke-width="2.3"/>
<line x1="426.58" y1="433.90" x2="426.58" y2="435.90" stroke="#000" stroke-width="1.4"/>
<line x1="452.74" y1="433.90" x2="452.74" y2="435.90" stroke="#000" stroke-width="1.4"/>
<line x1="478.90" y1="433.90" x2="478.90" y2="435.90" stroke="#000" stroke-width="1.4"/>
<line x1="505.06" y1="433.90" x2="505.06" y2="435.90" stroke="#000" stroke-width="1.4"/>
<line x1="531.22" y1="433.90" x2="531.22" y2="435.90" stroke="#000" stroke-width="1.4"/>
<line x1="557.38" y1="433.90" x2="557.38" y2="435.90" stroke="#000" stroke-width="1.4"/>
<line x1="583.54" y1="433.90" x2="583.54" y2="435.90" stroke="#000" stroke-width="1.4"/>
<line x1="609.70" y1="433.90" x2="609.70" y2="435.90" stroke="#000" stroke-width="1.4"/>
<line x1="635.86" y1="433.90" x2="635.86" y2="435.90" stroke="#000" stroke-width="1.4"/>
<line x1="662.02" y1="433.90" x2="662.02" y2="435.90" stroke="#000" stroke-width="1.4"/>
<line x1="413.50" y1="433.90" x2="413.50" y2="437.10" stroke="#000" stroke-width="2"/>
<text x="413.50" y="448.60" font-size="11.3" font-weight="bold" text-anchor="middle" >156</text>
<line x1="439.66" y1="433.90" x2="439.66" y2="437.10" stroke="#000" stroke-width="2"/>
<text x="439.66" y="448.60" font-size="11.3" font-weight="bold" text-anchor="middle" >158</text>
<line x1="465.82" y1="433.90" x2="465.82" y2="437.10" stroke="#000" stroke-width="2"/>
<text x="465.82" y="448.60" font-size="11.3" font-weight="bold" text-anchor="middle" >160</text>
<line x1="491.98" y1="433.90" x2="491.98" y2="437.10" stroke="#000" stroke-width="2"/>
<text x="491.98" y="448.60" font-size="11.3" font-weight="bold" text-anchor="middle" >162</text>
<line x1="518.14" y1="433.90" x2="518.14" y2="437.10" stroke="#000" stroke-width="2"/>
<text x="518.14" y="448.60" font-size="11.3" font-weight="bold" text-anchor="middle" >164</text>
<line x1="544.30" y1="433.90" x2="544.30" y2="437.10" stroke="#000" stroke-width="2"/>
<text x="544.30" y="448.60" font-size="11.3" font-weight="bold" text-anchor="middle" >166</text>
<line x1="570.46" y1="433.90" x2="570.46" y2="437.10" stroke="#000" stroke-width="2"/>
<text x="570.46" y="448.60" font-size="11.3" font-weight="bold" text-anchor="middle" >168</text>
<line x1="596.62" y1="433.90" x2="596.62" y2="437.10" stroke="#000" stroke-width="2"/>
<text x="596.62" y="448.60" font-size="11.3" font-weight="bold" text-anchor="middle" >170</text>
<line x1="622.78" y1="433.90" x2="622.78" y2="437.10" stroke="#000" stroke-width="2"/>
<text x="622.78" y="448.60" font-size="11.3" font-weight="bold" text-anchor="middle" >172</text>
<line x1="648.94" y1="433.90" x2="648.94" y2="437.10" stroke="#000" stroke-width="2"/>
<text x="648.94" y="448.60" font-size="11.3" font-weight="bold" text-anchor="middle" >174</text>
<line x1="675.10" y1="433.90" x2="675.10" y2="437.10" stroke="#000" stroke-width="2"/>
<text x="675.10" y="448.60" font-size="11.3" font-weight="bold" text-anchor="middle" >176</text>
<line x1="409.90" y1="433.90" x2="413.50" y2="433.90" stroke="#000" stroke-width="2"/>
<text x="0" y="0" font-size="11.3" font-weight="bold" text-anchor="end" transform="translate(406.70,436.90) scale(1.04,1)" >0</text>
<line x1="411.30" y1="411.55" x2="413.50" y2="411.55" stroke="#000" stroke-width="1.4"/>
<line x1="409.90" y1="389.20" x2="413.50" y2="389.20" stroke="#000" stroke-width="2"/>
<text x="0" y="0" font-size="11.3" font-weight="bold" text-anchor="end" transform="translate(406.70,392.20) scale(1.04,1)" >2000</text>
<line x1="411.30" y1="366.85" x2="413.50" y2="366.85" stroke="#000" stroke-width="1.4"/>
<line x1="409.90" y1="344.50" x2="413.50" y2="344.50" stroke="#000" stroke-width="2"/>
<text x="0" y="0" font-size="11.3" font-weight="bold" text-anchor="end" transform="translate(406.70,347.50) scale(1.04,1)" >4000</text>
<line x1="411.30" y1="322.15" x2="413.50" y2="322.15" stroke="#000" stroke-width="1.4"/>
<line x1="409.90" y1="299.80" x2="413.50" y2="299.80" stroke="#000" stroke-width="2"/>
<text x="0" y="0" font-size="11.3" font-weight="bold" text-anchor="end" transform="translate(406.70,302.80) scale(1.04,1)" >6000</text>
<line x1="411.30" y1="277.45" x2="413.50" y2="277.45" stroke="#000" stroke-width="1.4"/>
<line x1="409.90" y1="255.10" x2="413.50" y2="255.10" stroke="#000" stroke-width="2"/>
<text x="0" y="0" font-size="11.3" font-weight="bold" text-anchor="end" transform="translate(406.70,258.10) scale(1.04,1)" >8000</text>
<text x="0" y="0" font-size="10.4" font-weight="bold" text-anchor="middle" letter-spacing="0.1" transform="translate(534.40,467.40) scale(1.12,1)" >Binding Energy (eV)</text>
<text x="0" y="0" font-size="10.9" font-weight="bold" text-anchor="middle" transform="translate(373.00,344.70) rotate(-90)">Count/s</text>
<path d="M414.86,368.45 L415.78,376.19 L416.87,353.75 L417.95,379.28 L419.19,368.45 L419.96,376.96 L420.74,348.34 L421.51,322.04 L422.28,294.96 L423.06,334.41 L423.83,380.83 L424.60,337.51 L425.38,335.96 L426.46,334.41 L427.39,312.75 L428.47,294.19 L429.40,311.21 L430.02,326.68 L430.79,309.66 L431.57,307.34 L432.34,331.32 L433.11,359.17 L433.89,374.64 L434.66,339.06 L435.43,335.96 L436.21,354.53 L436.98,337.51 L437.75,322.81 L438.53,348.34 L439.30,371.54 L440.07,322.81 L440.85,322.04 L441.62,349.89 L442.40,365.36 L443.17,373.09 L443.94,323.58 L445.18,318.17 L446.26,309.66 L447.35,299.60 L448.27,326.68 L448.89,349.89 L449.82,335.96 L450.90,370.00 L451.68,342.15 L452.92,340.60 L454.00,331.32 L455.08,324.36 L456.32,334.41 L457.87,388.56 L458.95,359.17 L460.19,337.51 L461.73,337.51 L462.82,340.60 L464.06,360.71 L465.29,382.37 L466.38,342.92 L467.15,337.51 L468.39,356.07 L469.47,362.26 L470.24,334.41 L471.02,321.26 L471.79,331.32 L473.03,352.98 L474.11,373.09 L475.19,339.06 L476.12,329.77 L477.21,346.79 L478.29,365.36 L479.53,362.26 L481.07,387.02 L481.85,365.36 L483.39,349.89 L484.94,337.51 L486.49,325.13 L487.57,332.87 L488.81,334.41 L490.05,393.20 L491.13,340.60 L492.21,323.58 L493.14,275.31 L493.76,326.68 L494.69,348.34 L495.62,331.32 L496.54,356.07 L497.78,380.83 L498.87,320.49 L499.64,308.11 L500.53,330.70 L501.38,357.70 L502.22,334.07 L503.06,310.44 L503.91,337.45 L504.75,317.19 L505.59,285.13 L506.10,275.00 L506.78,308.76 L507.45,362.76 L508.13,318.88 L508.97,342.51 L509.81,352.64 L510.66,325.63 L511.50,342.51 L512.35,318.88 L513.19,352.64 L514.03,329.01 L514.88,320.57 L515.72,327.32 L516.57,317.19 L517.41,295.25 L518.25,302.00 L519.10,327.32 L519.94,349.26 L520.78,357.70 L521.63,325.63 L522.47,293.57 L523.32,285.13 L524.16,308.76 L525.00,342.51 L525.85,362.76 L526.69,369.51 L527.54,372.89 L528.38,374.58 L529.22,339.14 L530.07,349.26 L530.91,339.14 L531.76,334.07 L532.60,325.63 L533.44,319.73 L534.29,342.51 L535.13,371.20 L535.97,357.70 L536.82,369.51 L537.66,374.58 L538.51,362.76 L539.35,352.64 L540.19,362.76 L541.04,383.02 L541.88,350.95 L542.73,347.57 L543.57,354.32 L544.41,359.39 L545.26,361.08 L546.10,352.64 L546.95,330.70 L547.79,303.69 L548.63,320.57 L549.48,323.95 L550.32,310.44 L551.16,330.70 L552.01,350.95 L552.85,372.89 L553.70,350.95 L554.54,342.51 L555.38,354.32 L556.23,345.89 L557.07,359.39 L557.92,393.14 L558.76,350.95 L559.60,337.45 L560.45,340.82 L561.29,347.57 L562.14,352.64 L562.98,354.32 L563.82,334.07 L564.67,318.88 L565.51,391.46 L566.35,342.51 L567.20,322.26 L568.04,325.63 L568.89,337.45 L569.73,350.95 L570.57,359.39 L571.42,362.76 L572.26,366.14 L573.11,349.26 L573.95,332.38 L574.79,339.14 L575.64,359.39 L576.48,372.89 L577.32,366.14 L578.17,354.32 L579.01,349.26 L579.86,364.45 L580.70,350.95 L581.54,347.57 L582.39,356.01 L583.23,359.39 L584.08,354.32 L584.92,357.70 L585.74,362.65 L586.66,364.48 L587.57,360.83 L588.49,382.77 L589.03,331.57 L589.95,301.40 L590.68,337.06 L591.41,359.00 L592.14,353.51 L593.06,371.80 L593.61,401.05 L594.34,368.14 L595.07,349.85 L595.80,351.68 L596.71,349.85 L597.63,359.00 L598.54,342.54 L599.46,320.60 L600.37,305.06 L601.28,342.54 L601.83,380.94 L602.75,359.00 L603.48,371.80 L604.21,382.77 L604.94,344.37 L605.67,334.31 L606.40,348.03 L607.32,355.34 L608.23,368.14 L608.96,377.28 L609.70,379.11 L610.43,375.45 L611.34,380.94 L612.26,384.60 L613.17,316.03 L614.08,348.03 L615.00,375.45 L615.91,404.71 L616.83,355.34 L617.74,348.03 L618.66,344.37 L619.57,342.54 L620.48,368.14 L621.40,344.37 L622.31,340.71 L623.23,371.80 L624.14,348.03 L625.06,348.03 L625.97,377.28 L626.88,360.83 L627.80,359.00 L628.71,360.83 L629.63,397.40 L630.17,413.85 L630.91,390.08 L632.00,388.25 L632.92,389.17 L633.83,386.42 L634.75,384.60 L635.66,379.11 L636.57,369.97 L637.49,386.42 L638.40,404.71 L639.32,415.68 L640.05,373.62 L640.78,335.23 L641.51,349.85 L642.43,368.14 L643.34,346.20 L644.25,359.00 L645.17,373.62 L646.08,375.45 L647.00,349.85 L647.91,364.48 L648.46,382.77 L649.37,349.85 L650.29,331.57 L651.20,316.03 L652.12,337.06 L653.03,346.20 L653.95,355.34 L654.86,368.14 L655.77,377.28 L656.51,390.08 L657.42,344.37 L658.33,382.77 L659.25,371.80 L660.16,359.00 L661.08,368.14 L661.99,342.54 L662.72,373.62 L663.45,412.02 L664.37,375.45 L665.28,371.80 L666.20,366.31 L667.11,349.85 L668.02,331.57 L668.94,318.77 L669.85,312.37 L670.77,337.06 L671.68,368.14 L672.60,386.42 L673.51,410.19" fill="none" stroke="#ff0000" stroke-width="1.2" stroke-linejoin="round" stroke-linecap="round" />
<text x="0" y="0" font-size="29.5" font-weight="bold" text-anchor="start" transform="translate(432.40,288.40) scale(1.15,1)" >d</text>
<text x="0" y="0" font-size="10.5" font-weight="bold" text-anchor="start" transform="translate(524.70,267.70) scale(1.1,1)" >S2p (Blank)</text>
<rect x="235.10" y="496.40" width="261.30" height="178.70" fill="none" stroke="#000" stroke-width="2.3"/>
<line x1="251.43" y1="675.10" x2="251.43" y2="677.10" stroke="#000" stroke-width="1.4"/>
<line x1="284.09" y1="675.10" x2="284.09" y2="677.10" stroke="#000" stroke-width="1.4"/>
<line x1="316.76" y1="675.10" x2="316.76" y2="677.10" stroke="#000" stroke-width="1.4"/>
<line x1="349.42" y1="675.10" x2="349.42" y2="677.10" stroke="#000" stroke-width="1.4"/>
<line x1="382.08" y1="675.10" x2="382.08" y2="677.10" stroke="#000" stroke-width="1.4"/>
<line x1="414.74" y1="675.10" x2="414.74" y2="677.10" stroke="#000" stroke-width="1.4"/>
<line x1="447.41" y1="675.10" x2="447.41" y2="677.10" stroke="#000" stroke-width="1.4"/>
<line x1="480.07" y1="675.10" x2="480.07" y2="677.10" stroke="#000" stroke-width="1.4"/>
<line x1="235.10" y1="675.10" x2="235.10" y2="678.30" stroke="#000" stroke-width="2"/>
<text x="0" y="0" font-size="11.3" font-weight="bold" text-anchor="middle" transform="translate(235.10,690.00) scale(1.04,1)" >392</text>
<line x1="267.76" y1="675.10" x2="267.76" y2="678.30" stroke="#000" stroke-width="2"/>
<text x="0" y="0" font-size="11.3" font-weight="bold" text-anchor="middle" transform="translate(267.76,690.00) scale(1.04,1)" >394</text>
<line x1="300.42" y1="675.10" x2="300.42" y2="678.30" stroke="#000" stroke-width="2"/>
<text x="0" y="0" font-size="11.3" font-weight="bold" text-anchor="middle" transform="translate(300.42,690.00) scale(1.04,1)" >396</text>
<line x1="333.09" y1="675.10" x2="333.09" y2="678.30" stroke="#000" stroke-width="2"/>
<text x="0" y="0" font-size="11.3" font-weight="bold" text-anchor="middle" transform="translate(333.09,690.00) scale(1.04,1)" >398</text>
<line x1="365.75" y1="675.10" x2="365.75" y2="678.30" stroke="#000" stroke-width="2"/>
<text x="0" y="0" font-size="11.3" font-weight="bold" text-anchor="middle" transform="translate(365.75,690.00) scale(1.04,1)" >400</text>
<line x1="398.41" y1="675.10" x2="398.41" y2="678.30" stroke="#000" stroke-width="2"/>
<text x="0" y="0" font-size="11.3" font-weight="bold" text-anchor="middle" transform="translate(398.41,690.00) scale(1.04,1)" >402</text>
<line x1="431.07" y1="675.10" x2="431.07" y2="678.30" stroke="#000" stroke-width="2"/>
<text x="0" y="0" font-size="11.3" font-weight="bold" text-anchor="middle" transform="translate(431.07,690.00) scale(1.04,1)" >404</text>
<line x1="463.74" y1="675.10" x2="463.74" y2="678.30" stroke="#000" stroke-width="2"/>
<text x="0" y="0" font-size="11.3" font-weight="bold" text-anchor="middle" transform="translate(463.74,690.00) scale(1.04,1)" >406</text>
<line x1="496.40" y1="675.10" x2="496.40" y2="678.30" stroke="#000" stroke-width="2"/>
<text x="0" y="0" font-size="11.3" font-weight="bold" text-anchor="middle" transform="translate(496.40,690.00) scale(1.04,1)" >408</text>
<line x1="231.50" y1="675.10" x2="235.10" y2="675.10" stroke="#000" stroke-width="2"/>
<text x="0" y="0" font-size="11.3" font-weight="bold" text-anchor="end" transform="translate(227.50,678.10) scale(1.04,1)" >0</text>
<line x1="232.90" y1="652.76" x2="235.10" y2="652.76" stroke="#000" stroke-width="1.4"/>
<line x1="231.50" y1="630.42" x2="235.10" y2="630.42" stroke="#000" stroke-width="2"/>
<text x="0" y="0" font-size="11.3" font-weight="bold" text-anchor="end" transform="translate(227.50,633.42) scale(1.04,1)" >2000</text>
<line x1="232.90" y1="608.09" x2="235.10" y2="608.09" stroke="#000" stroke-width="1.4"/>
<line x1="231.50" y1="585.75" x2="235.10" y2="585.75" stroke="#000" stroke-width="2"/>
<text x="0" y="0" font-size="11.3" font-weight="bold" text-anchor="end" transform="translate(227.50,588.75) scale(1.04,1)" >4000</text>
<line x1="232.90" y1="563.41" x2="235.10" y2="563.41" stroke="#000" stroke-width="1.4"/>
<line x1="231.50" y1="541.08" x2="235.10" y2="541.08" stroke="#000" stroke-width="2"/>
<text x="0" y="0" font-size="11.3" font-weight="bold" text-anchor="end" transform="translate(227.50,544.08) scale(1.04,1)" >6000</text>
<line x1="232.90" y1="518.74" x2="235.10" y2="518.74" stroke="#000" stroke-width="1.4"/>
<line x1="231.50" y1="496.40" x2="235.10" y2="496.40" stroke="#000" stroke-width="2"/>
<text x="0" y="0" font-size="11.3" font-weight="bold" text-anchor="end" transform="translate(227.50,499.40) scale(1.04,1)" >8000</text>
<text x="0" y="0" font-size="10.4" font-weight="bold" text-anchor="middle" letter-spacing="0.1" transform="translate(355.60,708.80) scale(1.12,1)" >Binding Energy (eV)</text>
<text x="0" y="0" font-size="10.9" font-weight="bold" text-anchor="middle" transform="translate(194.40,585.70) rotate(-90)">Count/s</text>
<path d="M236.31,648.83 L236.97,627.81 L237.63,631.75 L238.28,643.58 L238.94,635.69 L239.60,625.18 L240.26,617.30 L240.91,610.73 L241.57,625.18 L242.23,635.04 L242.88,635.69 L244.20,635.69 L245.51,636.35 L246.17,630.44 L246.82,623.87 L247.48,621.90 L248.14,626.50 L248.80,631.75 L249.45,635.69 L250.11,641.61 L250.77,638.32 L251.42,631.75 L252.08,629.12 L252.74,630.44 L253.39,633.07 L254.05,631.75 L254.71,630.44 L255.37,629.12 L256.02,638.32 L256.68,646.21 L257.34,648.83 L257.99,648.83 L258.65,648.83 L259.31,647.52 L259.96,643.58 L260.62,638.32 L261.28,630.44 L261.93,622.56 L262.59,618.61 L263.25,616.64 L263.91,617.30 L264.56,627.81 L265.22,638.32 L265.88,635.69 L266.53,633.72 L267.19,635.69 L267.85,638.32 L268.50,637.67 L269.16,638.98 L269.82,639.64 L270.47,638.98 L271.13,640.95 L271.79,643.58 L272.45,638.32 L273.10,635.69 L273.76,634.38 L274.42,643.58 L275.07,654.09 L275.47,657.37 L276.12,646.21 L276.78,638.32 L277.44,631.75 L278.10,627.81 L278.75,625.84 L279.41,630.44 L280.07,634.38 L280.99,635.04 L282.30,635.69 L283.61,636.35 L284.27,630.44 L284.93,625.18 L285.58,626.50 L286.24,630.44 L286.90,634.38 L287.56,639.64 L288.21,644.23 L288.87,638.32 L289.53,630.44 L290.18,625.18 L290.84,619.93 L291.50,614.67 L292.15,619.93 L292.81,630.44 L293.47,639.64 L294.12,644.89 L294.78,646.21 L295.44,640.95 L296.10,630.44 L296.75,622.56 L297.41,609.42 L298.07,601.53 L298.72,609.42 L299.38,625.18 L300.04,623.87 L300.69,621.24 L301.35,619.93 L302.01,620.58 L302.67,619.93 L303.32,617.30 L303.98,613.36 L304.64,609.42 L305.95,606.13 L307.26,605.47 L308.58,608.10 L309.23,610.73 L309.89,609.42 L310.55,602.85 L311.21,597.59 L312.52,593.65 L313.18,592.99 L313.83,596.28 L314.49,602.85 L315.15,612.04 L315.80,617.30 L316.46,617.30 L317.12,613.36 L317.77,605.47 L318.43,593.65 L319.09,583.14 L320.40,576.57 L321.23,571.31 L322.85,564.84 L324.15,556.75 L324.95,566.46 L325.76,582.63 L326.41,572.93 L327.38,558.37 L328.19,550.29 L329.00,542.20 L329.64,539.77 L330.29,547.05 L330.94,543.82 L331.75,540.58 L332.56,538.16 L333.36,543.82 L334.17,547.05 L334.98,543.82 L335.79,537.35 L336.60,529.26 L337.41,517.13 L339.03,517.13 L340.64,517.94 L341.45,526.03 L342.26,538.96 L343.07,536.54 L343.88,535.73 L344.69,533.30 L345.49,531.69 L346.30,537.35 L347.11,550.29 L348.73,551.09 L350.35,551.90 L351.96,556.75 L353.58,559.99 L354.39,566.46 L355.20,576.16 L356.01,585.87 L356.82,593.95 L357.62,590.72 L358.43,584.25 L359.24,579.40 L360.05,576.97 L361.67,577.78 L362.48,582.63 L363.29,589.10 L364.09,593.95 L364.90,595.57 L365.71,589.10 L366.52,582.63 L367.33,578.59 L368.46,577.78 L369.27,585.87 L370.08,602.04 L370.73,606.89 L371.37,602.04 L372.63,594.45 L373.28,591.82 L373.94,589.20 L374.60,586.57 L375.26,586.57 L375.91,597.08 L376.57,608.91 L377.23,604.96 L377.88,598.39 L378.54,597.08 L379.20,606.28 L379.85,616.79 L380.51,620.73 L381.17,622.70 L381.82,623.36 L382.48,622.70 L383.14,623.36 L383.80,625.99 L384.45,628.61 L385.11,629.27 L385.77,628.61 L386.42,627.96 L387.08,629.93 L387.74,631.24 L388.39,625.99 L389.05,619.42 L389.71,617.45 L390.37,618.10 L391.02,617.45 L391.68,618.10 L392.34,606.28 L392.99,597.08 L393.65,606.28 L394.31,619.42 L394.96,625.99 L395.62,632.56 L396.28,633.87 L396.93,629.93 L397.59,625.99 L398.25,625.33 L398.91,624.67 L399.56,622.04 L400.22,620.73 L400.88,618.76 L401.53,622.04 L402.19,632.56 L402.85,629.93 L403.50,623.36 L404.16,620.73 L404.82,619.42 L405.47,620.73 L406.13,621.39 L406.79,623.36 L407.45,620.73 L408.10,611.53 L408.76,604.96 L409.42,599.05 L410.07,616.79 L410.73,643.07 L411.39,643.07 L412.04,629.93 L412.70,618.10 L413.36,624.67 L414.02,632.56 L414.67,622.04 L415.33,610.22 L415.99,600.37 L416.64,606.28 L417.30,614.16 L417.96,620.73 L418.61,632.56 L419.27,629.93 L419.93,623.36 L420.58,622.04 L421.24,627.30 L421.90,632.56 L422.56,640.44 L423.21,643.07 L423.87,644.38 L424.53,644.38 L425.18,643.07 L425.84,641.75 L426.50,640.44 L427.15,639.12 L427.81,641.10 L428.47,643.07 L429.12,644.38 L429.78,640.44 L430.44,635.18 L431.10,629.93 L431.75,622.04 L432.41,611.53 L433.07,601.02 L433.72,591.82 L434.38,598.39 L435.04,619.42 L435.69,633.87 L436.35,619.42 L437.01,610.22 L437.67,604.96 L438.32,601.02 L438.98,599.71 L439.64,611.53 L440.29,623.36 L440.95,632.56 L441.61,637.81 L442.26,637.81 L442.92,629.93 L443.58,619.42 L444.23,612.85 L444.89,606.28 L445.26,604.38 L445.69,613.14 L446.13,621.90 L446.57,631.53 L447.01,626.28 L447.45,622.77 L447.88,621.02 L448.76,620.58 L449.63,621.90 L450.51,624.52 L451.39,627.15 L452.26,629.78 L453.14,632.41 L454.01,635.04 L454.89,637.66 L455.33,633.28 L455.77,626.28 L456.20,619.27 L456.64,618.39 L457.08,624.52 L457.52,630.66 L457.96,633.28 L458.39,633.28 L459.27,634.16 L460.15,634.16 L461.02,632.41 L461.90,628.90 L462.77,625.40 L463.65,621.90 L464.52,618.39 L465.40,616.20 L466.28,614.45 L467.15,614.45 L468.03,615.77 L468.47,621.90 L468.90,630.66 L469.34,637.66 L469.78,642.92 L470.22,639.41 L470.66,630.66 L471.09,625.40 L471.53,623.65 L471.97,629.78 L472.41,630.66 L473.28,631.53 L474.16,631.53 L475.04,633.28 L475.91,637.66 L476.79,642.92 L477.66,642.92 L478.54,642.04 L479.41,635.04 L480.29,626.28 L480.73,617.52 L481.17,611.39 L481.60,615.77 L482.04,626.28 L482.48,635.04 L482.92,636.79 L483.36,636.79 L483.79,635.04 L484.23,633.28 L484.67,630.66 L485.11,624.52 L485.55,619.27 L485.98,616.64 L486.42,616.64 L486.86,619.27 L487.30,622.77 L487.74,623.65 L488.17,623.21 L489.05,622.77 L489.93,621.02 L490.80,615.77 L491.24,618.39 L491.68,619.27 L492.12,618.39 L492.55,622.77 L492.99,627.15 L493.43,621.90 L493.87,608.76 L494.30,604.38 L494.74,605.26" fill="none" stroke="#ff0000" stroke-width="1.15" stroke-linejoin="round" stroke-linecap="round" />
<text x="0" y="0" font-size="29.8" font-weight="bold" text-anchor="start" transform="translate(253.30,529.70) scale(1.15,1)" >e</text>
<text x="0" y="0" font-size="9.3" font-weight="bold" text-anchor="start" transform="translate(368.90,510.40) scale(1.08,1)" >N1s (Blank)</text>
</svg></body></html>
